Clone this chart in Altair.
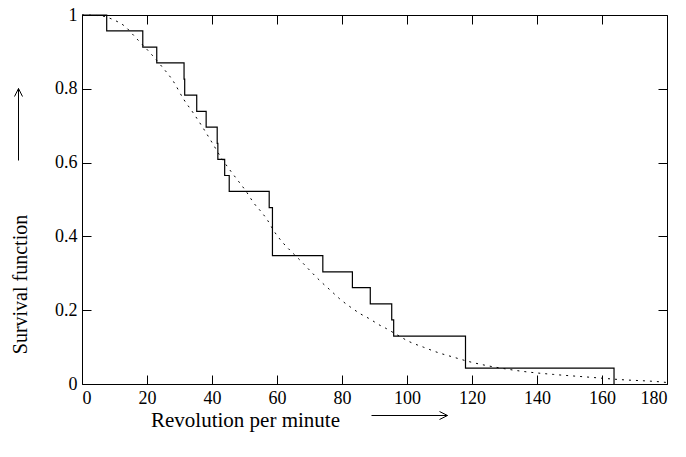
import altair as alt
import pandas as pd

step_rpm = [0, 7.6, 18.7, 23.0, 31.4, 31.6, 35.3, 38.2, 41.6, 41.8, 43.9, 45.3,
            57.6, 58.6, 74.1, 83.2, 88.7, 95.3, 95.9, 118.0, 163.7]
step_surv = [1.0, 0.957, 0.913, 0.870, 0.826, 0.783, 0.739, 0.696, 0.652, 0.609,
             0.565, 0.522, 0.478, 0.348, 0.304, 0.261, 0.217, 0.174, 0.130, 0.043, 0.0]

# fitted smooth survival curve (dotted)
curve_rpm = [0, 5.6, 9.7, 13.1, 16.7, 20.8, 24.6, 27.9, 31.4, 34.2, 37.1, 39.9,
             43.0, 45.5, 48.1, 50.5, 52.9, 55.3, 57.0, 59.1, 61.9, 64.5, 67.6,
             70.4, 73.2, 76.3, 79.4, 83.0, 85.7, 88.4, 91.7, 93.7, 96.8, 100.9,
             105.0, 109.6, 114.2, 119.4, 124.5, 129.6, 135.8, 145.0, 155.3,
             165.5, 178.9, 180]
curve_surv = [1.0, 0.998, 0.987, 0.970, 0.937, 0.899, 0.860, 0.823, 0.770, 0.735,
              0.696, 0.656, 0.611, 0.580, 0.550, 0.522, 0.490, 0.465, 0.445, 0.414,
              0.382, 0.358, 0.331, 0.305, 0.280, 0.255, 0.230, 0.206, 0.190, 0.177,
              0.159, 0.150, 0.134, 0.114, 0.100, 0.085, 0.073, 0.060, 0.050, 0.042,
              0.034, 0.026, 0.019, 0.012, 0.005, 0.004]

x_ticks = [0, 20, 40, 60, 80, 100, 120, 140, 160, 180]
y_ticks = [0, 0.2, 0.4, 0.6, 0.8, 1.0]

W, H = 585, 369
TOP = 7
LEFT = 74
FONT = "Liberation Serif"

step_df = pd.DataFrame({"rpm": step_rpm, "surv": step_surv})
curve_df = pd.DataFrame({"rpm": curve_rpm, "surv": curve_surv})

xscale = alt.Scale(domain=[0, 180], nice=False, zero=False)
yscale = alt.Scale(domain=[0, 1], nice=False, zero=False)

def tick_axis(orient, offset, values):
    # axis moved to the opposite edge so that its ticks point inwards;
    # its domain line draws that edge of the frame
    return alt.Axis(orient=orient, offset=offset, values=values, labels=False,
                    ticks=True, tickSize=9, tickColor="black", tickWidth=1,
                    domain=True, domainColor="black", domainWidth=1,
                    grid=False, title=None)

step = alt.Chart(step_df).mark_line(interpolate="step-after", color="black",
                                    strokeWidth=1.2).encode(
    x=alt.X("rpm:Q", scale=xscale,
            axis=alt.Axis(orient="bottom", values=x_ticks, ticks=False, domain=False,
                          grid=False, labelPadding=5, labelFontSize=18, labelFont=FONT,
                          labelColor="black", title="Revolution per minute",
                          titleFont=FONT, titleFontSize=21, titleFontWeight="normal",
                          titleColor="black", titleX=163, titleY=42,
                          titleAlign="center", titleBaseline="alphabetic")),
    y=alt.Y("surv:Q", scale=yscale,
            axis=alt.Axis(orient="left", values=y_ticks, format="~g", ticks=False,
                          domain=False, grid=False, labelPadding=5, labelFontSize=18,
                          labelFont=FONT, labelColor="black", title="Survival function",
                          titleFont=FONT, titleFontSize=20, titleFontWeight="normal",
                          titleColor="black", titleAngle=270, titleX=-62,
                          titleY=284 - 8 - TOP,
                          titleAlign="center", titleBaseline="middle")),
)

curve = alt.Chart(curve_df).mark_line(interpolate="monotone", color="black",
                                      strokeWidth=1, strokeDash=[2, 5]).encode(
    x=alt.X("rpm:Q", scale=xscale, axis=tick_axis("top", -H, x_ticks)),
    y=alt.Y("surv:Q", scale=yscale, axis=tick_axis("right", -W, y_ticks)),
)

ghost = alt.Chart(curve_df).mark_line(strokeOpacity=0).encode(
    x=alt.X("rpm:Q", scale=xscale, axis=tick_axis("bottom", -H, x_ticks)),
    y=alt.Y("surv:Q", scale=yscale, axis=tick_axis("left", -W, y_ticks)),
)

one = alt.Data(values=[{"a": 1}])

def seg(x1, y1, x2, y2):
    # page coordinates -> plot coordinates (decoration only)
    return alt.Chart(one).mark_rule(color="black", strokeWidth=1).encode(
        x=alt.value(x1 - 8 - LEFT + 0.5), y=alt.value(y1 - 8 - TOP + 0.5),
        x2=alt.value(x2 - 8 - LEFT + 0.5), y2=alt.value(y2 - 8 - TOP + 0.5))

# axis-title arrows
arrows = [
    seg(371, 415, 447, 415), seg(439, 411, 447, 415), seg(439, 419, 447, 415),
    seg(18, 160, 18, 88), seg(14, 96, 18, 88), seg(22, 96, 18, 88),
]

chart = alt.layer(step, curve, ghost, *arrows).resolve_scale(
    x="independent", y="independent"
).properties(
    width=W, height=H,
    autosize=alt.AutoSizeParams(type="none"),
    padding={"left": LEFT, "top": TOP, "right": 11, "bottom": 60},
    background="white",
).configure_view(strokeWidth=0)

chart.save("out.html", embed_options={"renderer": "svg", "actions": False})
